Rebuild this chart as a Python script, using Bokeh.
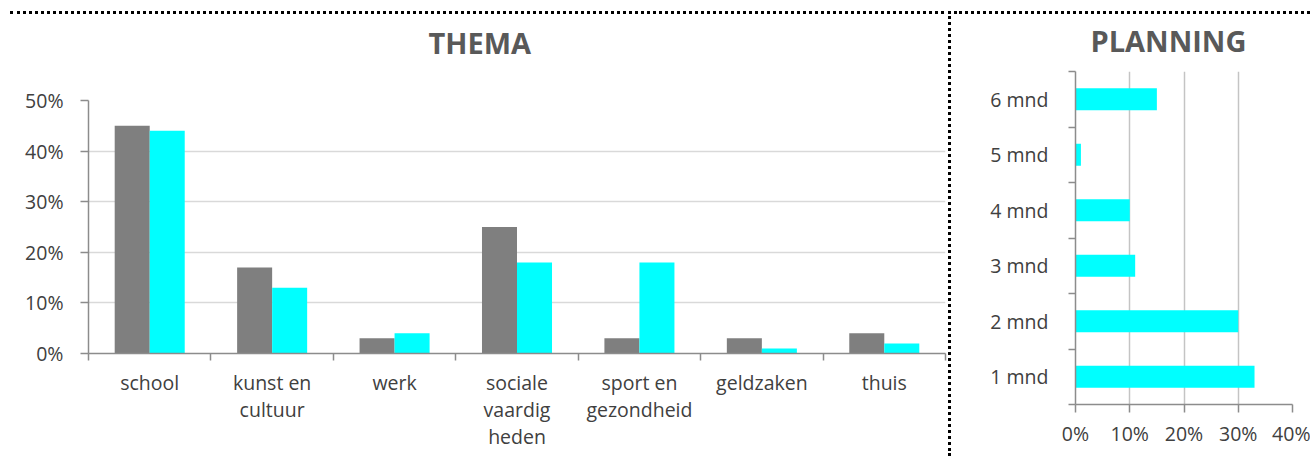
from bokeh.plotting import figure
from bokeh.models import ColumnDataSource, FixedTicker, NumeralTickFormatter, Range1d, Title
from bokeh.transform import dodge
from bokeh.embed import file_html
from bokeh.resources import INLINE

# ---- data ----
themes = ["school", "kunst en\ncultuur", "werk", "sociale\nvaardig\nheden",
          "sport en\ngezondheid", "geldzaken", "thuis"]
theme_grey = [0.45, 0.17, 0.03, 0.25, 0.03, 0.03, 0.04]
theme_cyan = [0.44, 0.13, 0.04, 0.18, 0.18, 0.01, 0.02]

plan_labels = ["1 mnd", "2 mnd", "3 mnd", "4 mnd", "5 mnd", "6 mnd"]
plan_values = [0.33, 0.30, 0.11, 0.10, 0.01, 0.15]

theme_ticks = [0.0, 0.1, 0.2, 0.3, 0.4, 0.5]
plan_ticks = [0.0, 0.1, 0.2, 0.3, 0.4]

FONT = "Open Sans"
LBL = "#404040"
AXC = "#8c8c8c"
GRID = "#d9d9d9"
DOT = "3px dotted #000000"
TICK_FS = "19.5px"
TITLE_FS = "29px"


def style_title(t, offset):
    t.text_font = FONT
    t.text_font_size = TITLE_FS
    t.text_font_style = "bold"
    t.text_color = "#595959"
    t.align = "left"
    t.offset = offset
    t.standoff = 0


def add_gap(p, px):
    # empty spacer panel between the frame and the title
    p.add_layout(Title(text=" ", text_font_size="2px", standoff=px - 2), "above")


# ---- left chart: THEMA ----
n = len(themes)
src = ColumnDataSource(dict(x=[i + 0.5 for i in range(n)], grey=theme_grey, cyan=theme_cyan))

p1 = figure(width=941, height=445, output_backend="svg", toolbar_location=None,
            x_range=Range1d(0, n), y_range=Range1d(0, 0.5),
            min_border_left=78, min_border_right=6, min_border_top=86, min_border_bottom=106,
            title="THEMA")
p1.styles = {"position": "absolute", "left": "10px", "top": "11px",
             "border-top": DOT, "border-right": DOT}
p1.outline_line_color = None
p1.vbar(x=dodge("x", -0.143, range=p1.x_range), top="grey", width=0.286, source=src,
        fill_color="#7f7f7f", line_color=None)
p1.vbar(x=dodge("x", 0.143, range=p1.x_range), top="cyan", width=0.286, source=src,
        fill_color="#00ffff", line_color=None)
style_title(p1.title, 340)
add_gap(p1, 37)

xa = p1.xaxis[0]
xa.ticker = FixedTicker(ticks=[i + 0.5 for i in range(n)], minor_ticks=list(range(n + 1)))
xa.major_label_overrides = {i + 0.5: themes[i] for i in range(n)}
xa.major_tick_out = 0
xa.major_tick_in = 0
xa.minor_tick_out = 7
xa.minor_tick_in = 0
xa.minor_tick_line_color = AXC
xa.minor_tick_line_width = 1.5
xa.axis_line_color = AXC
xa.axis_line_width = 1.5
xa.major_label_text_font = FONT
xa.major_label_text_font_size = TICK_FS
xa.major_label_text_color = LBL
xa.major_label_text_line_height = 1.0
xa.major_label_standoff = 8

ya = p1.yaxis[0]
ya.ticker = FixedTicker(ticks=theme_ticks)
ya.formatter = NumeralTickFormatter(format="0%")
ya.major_tick_out = 8
ya.major_tick_in = 0
ya.minor_tick_line_color = None
ya.major_tick_line_color = AXC
ya.major_tick_line_width = 1.5
ya.axis_line_color = AXC
ya.axis_line_width = 1.5
ya.major_label_text_font = FONT
ya.major_label_text_font_size = TICK_FS
ya.major_label_text_color = LBL
ya.major_label_standoff = 17

p1.xgrid.grid_line_color = None
p1.ygrid.ticker = FixedTicker(ticks=theme_ticks)
p1.ygrid.grid_line_color = GRID
p1.ygrid.grid_line_width = 1.5

# ---- right chart: PLANNING ----
m = len(plan_labels)
src2 = ColumnDataSource(dict(y=[i + 0.5 for i in range(m)], v=plan_values))

p2 = figure(width=356, height=445, output_backend="svg", toolbar_location=None,
            x_range=Range1d(0, 0.4), y_range=Range1d(0, m),
            min_border_left=121, min_border_right=18, min_border_top=57, min_border_bottom=55,
            title="PLANNING")
p2.styles = {"position": "absolute", "left": "954px", "top": "11px", "border-top": DOT}
p2.outline_line_color = None
p2.hbar(y="y", right="v", height=0.4, source=src2, fill_color="#00ffff", line_color=None)
style_title(p2.title, 15)
add_gap(p2, 10)

xb = p2.xaxis[0]
xb.ticker = FixedTicker(ticks=plan_ticks)
xb.formatter = NumeralTickFormatter(format="0%")
xb.major_tick_out = 8
xb.major_tick_in = 0
xb.minor_tick_line_color = None
xb.major_tick_line_color = AXC
xb.major_tick_line_width = 1.5
xb.axis_line_color = AXC
xb.axis_line_width = 1.5
xb.major_label_text_font = FONT
xb.major_label_text_font_size = TICK_FS
xb.major_label_text_color = LBL
xb.major_label_standoff = 7

yb = p2.yaxis[0]
yb.ticker = FixedTicker(ticks=[i + 0.5 for i in range(m)], minor_ticks=list(range(m + 1)))
yb.major_label_overrides = {i + 0.5: plan_labels[i] for i in range(m)}
yb.major_tick_out = 0
yb.major_tick_in = 0
yb.minor_tick_out = 7
yb.minor_tick_in = 0
yb.minor_tick_line_color = AXC
yb.minor_tick_line_width = 1.5
yb.axis_line_color = AXC
yb.axis_line_width = 1.5
yb.major_label_text_font = FONT
yb.major_label_text_font_size = TICK_FS
yb.major_label_text_color = LBL
yb.major_label_standoff = 20

p2.ygrid.grid_line_color = None
p2.xgrid.ticker = FixedTicker(ticks=plan_ticks)
p2.xgrid.grid_line_color = "#c4c4c4"
p2.xgrid.grid_line_width = 1.5

open("out.html", "w").write(file_html([p1, p2], INLINE))
